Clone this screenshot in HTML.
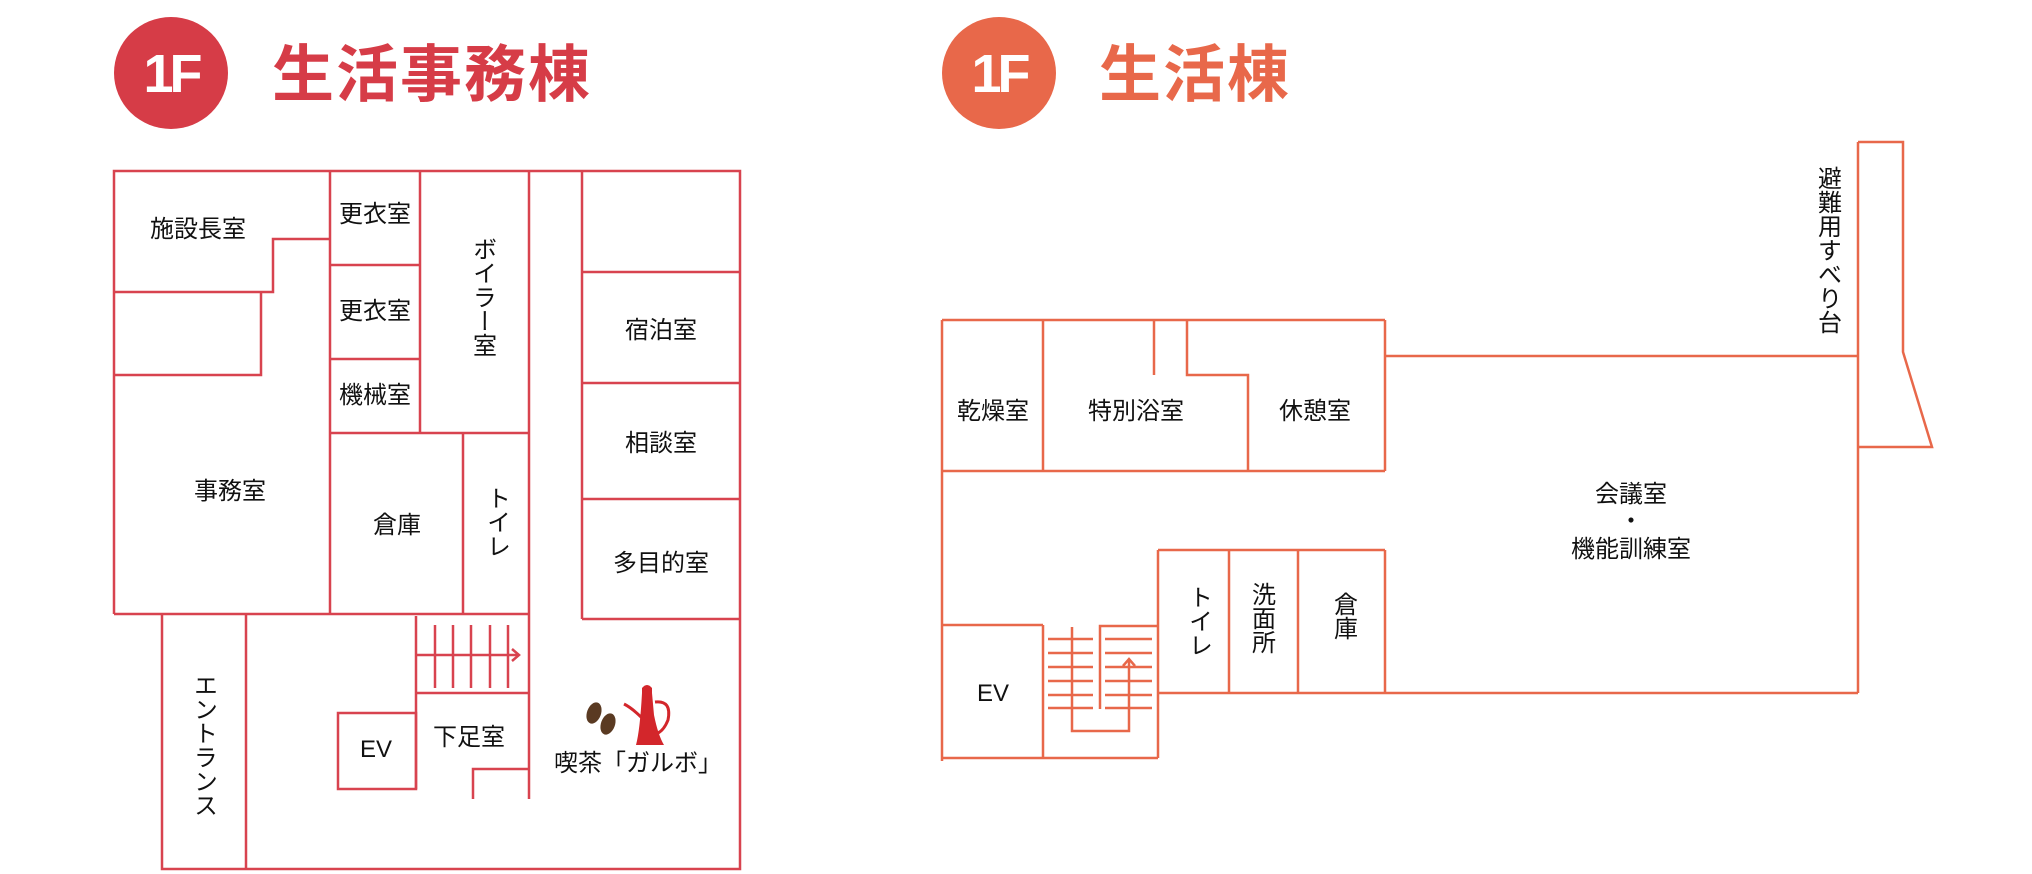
<!DOCTYPE html>
<html><head><meta charset="utf-8"><style>
html,body{margin:0;padding:0;background:#fff;}
svg{display:block}
text{font-family:"Liberation Sans","Noto Sans CJK JP",sans-serif;}
</style></head><body>
<svg width="2032" height="874" viewBox="0 0 2032 874" xmlns="http://www.w3.org/2000/svg">
<!-- Left title -->
<ellipse cx="171" cy="73" rx="57" ry="56" fill="#d63c47"/>
<text x="171" y="92" font-size="54" font-weight="bold" fill="#fff" text-anchor="middle" letter-spacing="-4">1F</text>
<text x="272" y="96" font-size="62" font-weight="bold" fill="#d63c47" font-family="Noto Sans CJK JP" letter-spacing="2">生活事務棟</text>

<g fill="none" stroke="#d8434f" stroke-width="2.5">
<polyline points="114,614 114,171 740,171 740,869 162,869 162,614"/>
<line x1="330" y1="171" x2="330" y2="614"/>
<polyline points="330,239 273,239 273,292 114,292"/>
<polyline points="114,375 261,375 261,293"/>
<line x1="114" y1="614" x2="529" y2="614"/>
<line x1="330" y1="265" x2="420" y2="265"/>
<line x1="330" y1="359" x2="420" y2="359"/>
<line x1="330" y1="433" x2="529" y2="433"/>
<line x1="420" y1="171" x2="420" y2="433"/>
<line x1="529" y1="171" x2="529" y2="799"/>
<line x1="582" y1="171" x2="582" y2="619"/>
<line x1="582" y1="272" x2="740" y2="272"/>
<line x1="582" y1="383" x2="740" y2="383"/>
<line x1="582" y1="499" x2="740" y2="499"/>
<line x1="582" y1="619" x2="740" y2="619"/>
<line x1="463" y1="433" x2="463" y2="614"/>
<line x1="246" y1="614" x2="246" y2="869"/>
<line x1="416" y1="616" x2="416" y2="789"/>
<line x1="416" y1="693" x2="529" y2="693"/>
<line x1="435" y1="625" x2="435" y2="688"/>
<line x1="453" y1="625" x2="453" y2="688"/>
<line x1="471" y1="625" x2="471" y2="688"/>
<line x1="490" y1="625" x2="490" y2="688"/>
<line x1="508" y1="625" x2="508" y2="688"/>
<line x1="416" y1="655" x2="519" y2="655"/>
<polyline points="512,649 519,655 512,661"/>
<polyline points="473,799 473,769 529,769"/>
<rect x="338" y="713" width="78" height="76"/>
</g>
<g font-size="24" fill="#111">
<text x="198" y="237" text-anchor="middle">施設長室</text>
<text x="375" y="222" text-anchor="middle">更衣室</text>
<text x="375" y="319" text-anchor="middle">更衣室</text>
<text x="375" y="403" text-anchor="middle">機械室</text>
<text x="230" y="499" text-anchor="middle">事務室</text>
<text x="397" y="533" text-anchor="middle">倉庫</text>
<text x="661" y="338" text-anchor="middle">宿泊室</text>
<text x="661" y="451" text-anchor="middle">相談室</text>
<text x="661" y="571" text-anchor="middle">多目的室</text>
<text x="469" y="745" text-anchor="middle">下足室</text>
<text x="376" y="757" text-anchor="middle">EV</text>
<text x="638" y="771" text-anchor="middle">喫茶「ガルボ」</text>
<text x="482" y="237" style="writing-mode:vertical-rl">ボイラー室</text>
<text x="496" y="486" style="writing-mode:vertical-rl">トイレ</text>
<text x="203" y="673" style="writing-mode:vertical-rl">エントランス</text>
</g>
<!-- beans -->
<ellipse cx="594" cy="713" rx="7" ry="11" transform="rotate(20 594 713)" fill="#5a3a22"/>
<ellipse cx="608" cy="724" rx="7" ry="11" transform="rotate(20 608 724)" fill="#5a3a22"/>
<!-- pot -->
<path d="M642,693 L652,693 L654,715 Q658,735 664,745 L636,745 Q640,730 642,693 Z" fill="#d3262b"/>
<path d="M642,688 Q647,682 652,688 L652,694 L642,694 Z" fill="#d3262b"/>
<path d="M655,702 Q672,700 668,720 Q664,730 658,733" fill="none" stroke="#d3262b" stroke-width="3"/>
<path d="M642,718 Q632,708 624,704" fill="none" stroke="#d3262b" stroke-width="3"/>

<!-- Right title -->
<ellipse cx="999" cy="73" rx="57" ry="56" fill="#e8684a"/>
<text x="999" y="92" font-size="54" font-weight="bold" fill="#fff" text-anchor="middle" letter-spacing="-4">1F</text>
<text x="1099" y="96" font-size="62" font-weight="bold" fill="#e8684a" font-family="Noto Sans CJK JP" letter-spacing="2">生活棟</text>

<g fill="none" stroke="#e8684a" stroke-width="2.5">
<line x1="942" y1="320" x2="1385" y2="320"/>
<line x1="942" y1="320" x2="942" y2="761"/>
<line x1="942" y1="471" x2="1385" y2="471"/>
<line x1="1385" y1="320" x2="1385" y2="471"/>
<line x1="1043" y1="320" x2="1043" y2="471"/>
<line x1="1154" y1="320" x2="1154" y2="375"/>
<polyline points="1187,320 1187,375 1248,375 1248,471"/>
<line x1="1385" y1="356" x2="1858" y2="356"/>
<polyline points="1858,142 1903,142 1903,352 1932,447 1858,447"/>
<line x1="1858" y1="142" x2="1858" y2="693"/>
<line x1="1158" y1="693" x2="1858" y2="693"/>
<line x1="1158" y1="550" x2="1385" y2="550"/>
<line x1="1158" y1="550" x2="1158" y2="758"/>
<line x1="1229" y1="550" x2="1229" y2="693"/>
<line x1="1298" y1="550" x2="1298" y2="693"/>
<line x1="1385" y1="550" x2="1385" y2="693"/>
<line x1="942" y1="625" x2="1043" y2="625"/>
<line x1="1043" y1="625" x2="1043" y2="758"/>
<line x1="942" y1="758" x2="1158" y2="758"/>
<polyline points="1100,709 1100,626 1158,626"/>
<polyline points="1072,627 1072,731 1129,731 1129,659"/>
<polyline points="1123,666 1129,659 1135,666"/>
<g>
<line x1="1048" y1="639" x2="1093" y2="639"/><line x1="1105" y1="639" x2="1152" y2="639"/>
<line x1="1048" y1="653" x2="1093" y2="653"/><line x1="1105" y1="653" x2="1152" y2="653"/>
<line x1="1048" y1="667" x2="1093" y2="667"/><line x1="1105" y1="667" x2="1152" y2="667"/>
<line x1="1048" y1="681" x2="1093" y2="681"/><line x1="1105" y1="681" x2="1152" y2="681"/>
<line x1="1048" y1="695" x2="1093" y2="695"/><line x1="1105" y1="695" x2="1152" y2="695"/>
<line x1="1048" y1="708" x2="1093" y2="708"/><line x1="1105" y1="708" x2="1152" y2="708"/>
</g>
</g>
<g font-size="24" fill="#111">
<text x="993" y="419" text-anchor="middle">乾燥室</text>
<text x="1136" y="419" text-anchor="middle">特別浴室</text>
<text x="1315" y="419" text-anchor="middle">休憩室</text>
<text x="1631" y="502" text-anchor="middle">会議室</text>
<text x="1631" y="529" text-anchor="middle">・</text>
<text x="1631" y="557" text-anchor="middle">機能訓練室</text>
<text x="993" y="701" text-anchor="middle">EV</text>
<text x="1827" y="166" style="writing-mode:vertical-rl">避難用すべり台</text>
<text x="1198" y="585" style="writing-mode:vertical-rl">トイレ</text>
<text x="1261" y="582" style="writing-mode:vertical-rl">洗面所</text>
<text x="1343" y="592" style="writing-mode:vertical-rl">倉庫</text>
</g>
</svg>
</body></html>
